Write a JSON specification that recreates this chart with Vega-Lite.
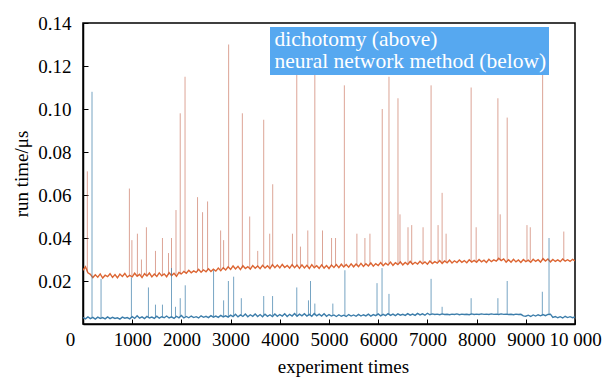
{
"$schema":"https://vega.github.io/schema/vega-lite/v6.json",
"width":492,"height":301,
"autosize":{"type":"none"},
"padding":{"left":83,"top":23,"right":31,"bottom":53},
"background":"white",
"config":{"font":"Liberation Serif","view":{"stroke":"black","strokeWidth":1.5},
"axis":{"domainColor":"black","domainWidth":1.5,"tickColor":"black","tickWidth":1,"labelColor":"black","labelFont":"Liberation Serif","labelFontSize":19,"titleFont":"Liberation Serif","titleFontSize":19,"titleFontWeight":"normal","titleColor":"black","grid":false},
"text":{"font":"Liberation Serif"}},
"datasets":{
"d":[
{"x":0,"y":0.0250},{"x":50,"y":0.0266},{"x":100,"y":0.0238},{"x":150,"y":0.0231},{"x":200,"y":0.0216},{"x":250,"y":0.0229},{"x":300,"y":0.0218},{"x":350,"y":0.0233},{"x":400,"y":0.0214},{"x":450,"y":0.0227},
{"x":500,"y":0.0220},{"x":550,"y":0.0234},{"x":600,"y":0.0217},{"x":650,"y":0.0230},{"x":700,"y":0.0215},{"x":750,"y":0.0232},{"x":800,"y":0.0221},{"x":850,"y":0.0235},{"x":900,"y":0.0218},{"x":950,"y":0.0226},
{"x":1000,"y":0.0219},{"x":1050,"y":0.0236},{"x":1100,"y":0.0222},{"x":1150,"y":0.0231},{"x":1200,"y":0.0216},{"x":1250,"y":0.0234},{"x":1300,"y":0.0223},{"x":1350,"y":0.0237},{"x":1400,"y":0.0219},{"x":1450,"y":0.0232},
{"x":1500,"y":0.0221},{"x":1550,"y":0.0238},{"x":1600,"y":0.0224},{"x":1650,"y":0.0233},{"x":1700,"y":0.0220},{"x":1750,"y":0.0239},{"x":1800,"y":0.0225},{"x":1850,"y":0.0236},{"x":1900,"y":0.0222},{"x":1950,"y":0.0240},
{"x":2000,"y":0.0233},{"x":2050,"y":0.0245},{"x":2100,"y":0.0236},{"x":2150,"y":0.0250},{"x":2200,"y":0.0238},{"x":2250,"y":0.0247},{"x":2300,"y":0.0240},{"x":2350,"y":0.0254},{"x":2400,"y":0.0241},{"x":2450,"y":0.0252},
{"x":2500,"y":0.0243},{"x":2550,"y":0.0257},{"x":2600,"y":0.0244},{"x":2650,"y":0.0255},{"x":2700,"y":0.0246},{"x":2750,"y":0.0260},{"x":2800,"y":0.0248},{"x":2850,"y":0.0262},{"x":2900,"y":0.0251},{"x":2950,"y":0.0266},
{"x":3000,"y":0.0254},{"x":3050,"y":0.0270},{"x":3100,"y":0.0256},{"x":3150,"y":0.0268},{"x":3200,"y":0.0253},{"x":3250,"y":0.0271},{"x":3300,"y":0.0258},{"x":3350,"y":0.0267},{"x":3400,"y":0.0255},{"x":3450,"y":0.0272},
{"x":3500,"y":0.0259},{"x":3550,"y":0.0270},{"x":3600,"y":0.0257},{"x":3650,"y":0.0273},{"x":3700,"y":0.0260},{"x":3750,"y":0.0271},{"x":3800,"y":0.0258},{"x":3850,"y":0.0276},{"x":3900,"y":0.0262},{"x":3950,"y":0.0274},
{"x":4000,"y":0.0261},{"x":4050,"y":0.0277},{"x":4100,"y":0.0263},{"x":4150,"y":0.0272},{"x":4200,"y":0.0260},{"x":4250,"y":0.0276},{"x":4300,"y":0.0262},{"x":4350,"y":0.0274},{"x":4400,"y":0.0259},{"x":4450,"y":0.0275},
{"x":4500,"y":0.0261},{"x":4550,"y":0.0273},{"x":4600,"y":0.0258},{"x":4650,"y":0.0276},{"x":4700,"y":0.0262},{"x":4750,"y":0.0271},{"x":4800,"y":0.0259},{"x":4850,"y":0.0275},{"x":4900,"y":0.0260},{"x":4950,"y":0.0272},
{"x":5000,"y":0.0258},{"x":5050,"y":0.0274},{"x":5100,"y":0.0263},{"x":5150,"y":0.0276},{"x":5200,"y":0.0262},{"x":5250,"y":0.0278},{"x":5300,"y":0.0265},{"x":5350,"y":0.0277},{"x":5400,"y":0.0264},{"x":5450,"y":0.0280},
{"x":5500,"y":0.0266},{"x":5550,"y":0.0279},{"x":5600,"y":0.0267},{"x":5650,"y":0.0282},{"x":5700,"y":0.0268},{"x":5750,"y":0.0280},{"x":5800,"y":0.0270},{"x":5850,"y":0.0284},{"x":5900,"y":0.0269},{"x":5950,"y":0.0281},
{"x":6000,"y":0.0272},{"x":6050,"y":0.0286},{"x":6100,"y":0.0271},{"x":6150,"y":0.0283},{"x":6200,"y":0.0274},{"x":6250,"y":0.0288},{"x":6300,"y":0.0273},{"x":6350,"y":0.0285},{"x":6400,"y":0.0276},{"x":6450,"y":0.0289},
{"x":6500,"y":0.0275},{"x":6550,"y":0.0286},{"x":6600,"y":0.0277},{"x":6650,"y":0.0291},{"x":6700,"y":0.0278},{"x":6750,"y":0.0287},{"x":6800,"y":0.0279},{"x":6850,"y":0.0292},{"x":6900,"y":0.0280},{"x":6950,"y":0.0289},
{"x":7000,"y":0.0278},{"x":7050,"y":0.0293},{"x":7100,"y":0.0281},{"x":7150,"y":0.0290},{"x":7200,"y":0.0283},{"x":7250,"y":0.0295},{"x":7300,"y":0.0282},{"x":7350,"y":0.0293},{"x":7400,"y":0.0285},{"x":7450,"y":0.0297},
{"x":7500,"y":0.0284},{"x":7550,"y":0.0294},{"x":7600,"y":0.0286},{"x":7650,"y":0.0298},{"x":7700,"y":0.0287},{"x":7750,"y":0.0295},{"x":7800,"y":0.0285},{"x":7850,"y":0.0299},{"x":7900,"y":0.0288},{"x":7950,"y":0.0296},
{"x":8000,"y":0.0287},{"x":8050,"y":0.0300},{"x":8100,"y":0.0289},{"x":8150,"y":0.0297},{"x":8200,"y":0.0286},{"x":8250,"y":0.0301},{"x":8300,"y":0.0290},{"x":8350,"y":0.0298},{"x":8400,"y":0.0292},{"x":8450,"y":0.0306},
{"x":8500,"y":0.0295},{"x":8550,"y":0.0303},{"x":8600,"y":0.0288},{"x":8650,"y":0.0299},{"x":8700,"y":0.0287},{"x":8750,"y":0.0301},{"x":8800,"y":0.0289},{"x":8850,"y":0.0298},{"x":8900,"y":0.0286},{"x":8950,"y":0.0300},
{"x":9000,"y":0.0290},{"x":9050,"y":0.0297},{"x":9100,"y":0.0287},{"x":9150,"y":0.0301},{"x":9200,"y":0.0291},{"x":9250,"y":0.0299},{"x":9300,"y":0.0288},{"x":9350,"y":0.0304},{"x":9400,"y":0.0293},{"x":9450,"y":0.0302},
{"x":9500,"y":0.0289},{"x":9550,"y":0.0300},{"x":9600,"y":0.0291},{"x":9650,"y":0.0298},{"x":9700,"y":0.0290},{"x":9750,"y":0.0302},{"x":9800,"y":0.0292},{"x":9850,"y":0.0299},{"x":9900,"y":0.0291},{"x":9950,"y":0.0301},
{"x":10000,"y":0.0294}
],
"ds":[
{"x":88,"y":0.071,"b":0.024},{"x":943,"y":0.063,"b":0.0225},{"x":994,"y":0.039,"b":0.0225},{"x":1106,"y":0.042,"b":0.0225},{"x":1188,"y":0.030,"b":0.0225},{"x":1289,"y":0.045,"b":0.0225},{"x":1473,"y":0.034,"b":0.0225},{"x":1615,"y":0.040,"b":0.0228},{"x":1738,"y":0.033,"b":0.0228},{"x":1799,"y":0.040,"b":0.0228},
{"x":1890,"y":0.053,"b":0.023},{"x":1976,"y":0.098,"b":0.023},{"x":2074,"y":0.115,"b":0.024},{"x":2328,"y":0.059,"b":0.0245},{"x":2430,"y":0.052,"b":0.0245},{"x":2532,"y":0.057,"b":0.025},{"x":2797,"y":0.0435,"b":0.0255},{"x":2858,"y":0.039,"b":0.0255},{"x":2960,"y":0.130,"b":0.026},{"x":3239,"y":0.098,"b":0.026},
{"x":3388,"y":0.050,"b":0.026},{"x":3551,"y":0.034,"b":0.0265},{"x":3673,"y":0.095,"b":0.0265},{"x":3795,"y":0.042,"b":0.0265},{"x":3856,"y":0.065,"b":0.0268},{"x":4257,"y":0.042,"b":0.0268},{"x":4345,"y":0.116,"b":0.0268},{"x":4420,"y":0.036,"b":0.0268},{"x":4569,"y":0.0435,"b":0.0268},{"x":4712,"y":0.116,"b":0.0268},
{"x":4868,"y":0.0435,"b":0.0268},{"x":5052,"y":0.040,"b":0.027},{"x":5133,"y":0.040,"b":0.027},{"x":5312,"y":0.111,"b":0.027},{"x":5567,"y":0.042,"b":0.0273},{"x":5730,"y":0.040,"b":0.0275},{"x":5832,"y":0.042,"b":0.0275},{"x":6082,"y":0.100,"b":0.0278},{"x":6219,"y":0.115,"b":0.028},{"x":6402,"y":0.105,"b":0.028},
{"x":6443,"y":0.051,"b":0.028},{"x":6606,"y":0.045,"b":0.0283},{"x":6681,"y":0.046,"b":0.0283},{"x":6912,"y":0.045,"b":0.0285},{"x":7075,"y":0.111,"b":0.0287},{"x":7217,"y":0.046,"b":0.0288},{"x":7299,"y":0.061,"b":0.0288},{"x":7380,"y":0.042,"b":0.029},{"x":7889,"y":0.110,"b":0.0292},{"x":7991,"y":0.045,"b":0.0292},
{"x":8433,"y":0.105,"b":0.0295},{"x":8480,"y":0.051,"b":0.0295},{"x":8622,"y":0.096,"b":0.0295},{"x":9024,"y":0.046,"b":0.0295},{"x":9091,"y":0.045,"b":0.0295},{"x":9342,"y":0.138,"b":0.0296},{"x":9772,"y":0.043,"b":0.0296}
],
"n":[
{"x":0,"y":0.0030},{"x":50,"y":0.0024},{"x":100,"y":0.0033},{"x":150,"y":0.0025},{"x":200,"y":0.0031},{"x":250,"y":0.0023},{"x":300,"y":0.0032},{"x":350,"y":0.0026},{"x":400,"y":0.0030},{"x":450,"y":0.0024},
{"x":500,"y":0.0033},{"x":550,"y":0.0025},{"x":600,"y":0.0031},{"x":650,"y":0.0026},{"x":700,"y":0.0029},{"x":750,"y":0.0023},{"x":800,"y":0.0032},{"x":850,"y":0.0027},{"x":900,"y":0.0030},{"x":950,"y":0.0024},
{"x":1000,"y":0.0034},{"x":1050,"y":0.0026},{"x":1100,"y":0.0038},{"x":1150,"y":0.0027},{"x":1200,"y":0.0033},{"x":1250,"y":0.0025},{"x":1300,"y":0.0035},{"x":1350,"y":0.0028},{"x":1400,"y":0.0032},{"x":1450,"y":0.0026},
{"x":1500,"y":0.0036},{"x":1550,"y":0.0027},{"x":1600,"y":0.0034},{"x":1650,"y":0.0029},{"x":1700,"y":0.0037},{"x":1750,"y":0.0028},{"x":1800,"y":0.0033},{"x":1850,"y":0.0026},{"x":1900,"y":0.0036},{"x":1950,"y":0.0029},
{"x":2000,"y":0.0040},{"x":2050,"y":0.0028},{"x":2100,"y":0.0035},{"x":2150,"y":0.0029},{"x":2200,"y":0.0037},{"x":2250,"y":0.0030},{"x":2300,"y":0.0034},{"x":2350,"y":0.0028},{"x":2400,"y":0.0038},{"x":2450,"y":0.0031},
{"x":2500,"y":0.0036},{"x":2550,"y":0.0030},{"x":2600,"y":0.0039},{"x":2650,"y":0.0032},{"x":2700,"y":0.0037},{"x":2750,"y":0.0031},{"x":2800,"y":0.0040},{"x":2850,"y":0.0033},{"x":2900,"y":0.0038},{"x":2950,"y":0.0032},
{"x":3000,"y":0.0041},{"x":3050,"y":0.0034},{"x":3100,"y":0.0045},{"x":3150,"y":0.0033},{"x":3200,"y":0.0042},{"x":3250,"y":0.0035},{"x":3300,"y":0.0046},{"x":3350,"y":0.0034},{"x":3400,"y":0.0043},{"x":3450,"y":0.0036},
{"x":3500,"y":0.0047},{"x":3550,"y":0.0035},{"x":3600,"y":0.0044},{"x":3650,"y":0.0034},{"x":3700,"y":0.0046},{"x":3750,"y":0.0036},{"x":3800,"y":0.0043},{"x":3850,"y":0.0035},{"x":3900,"y":0.0047},{"x":3950,"y":0.0036},
{"x":4000,"y":0.0044},{"x":4050,"y":0.0037},{"x":4100,"y":0.0048},{"x":4150,"y":0.0035},{"x":4200,"y":0.0045},{"x":4250,"y":0.0037},{"x":4300,"y":0.0049},{"x":4350,"y":0.0036},{"x":4400,"y":0.0046},{"x":4450,"y":0.0038},
{"x":4500,"y":0.0048},{"x":4550,"y":0.0037},{"x":4600,"y":0.0045},{"x":4650,"y":0.0036},{"x":4700,"y":0.0049},{"x":4750,"y":0.0038},{"x":4800,"y":0.0046},{"x":4850,"y":0.0037},{"x":4900,"y":0.0048},{"x":4950,"y":0.0036},
{"x":5000,"y":0.0044},{"x":5050,"y":0.0037},{"x":5100,"y":0.0042},{"x":5150,"y":0.0035},{"x":5200,"y":0.0043},{"x":5250,"y":0.0036},{"x":5300,"y":0.0041},{"x":5350,"y":0.0035},{"x":5400,"y":0.0044},{"x":5450,"y":0.0037},
{"x":5500,"y":0.0042},{"x":5550,"y":0.0036},{"x":5600,"y":0.0045},{"x":5650,"y":0.0037},{"x":5700,"y":0.0043},{"x":5750,"y":0.0038},{"x":5800,"y":0.0046},{"x":5850,"y":0.0037},{"x":5900,"y":0.0044},{"x":5950,"y":0.0039},
{"x":6000,"y":0.0047},{"x":6050,"y":0.0038},{"x":6100,"y":0.0045},{"x":6150,"y":0.0039},{"x":6200,"y":0.0048},{"x":6250,"y":0.0040},{"x":6300,"y":0.0046},{"x":6350,"y":0.0039},{"x":6400,"y":0.0047},{"x":6450,"y":0.0041},
{"x":6500,"y":0.0045},{"x":6550,"y":0.0040},{"x":6600,"y":0.0048},{"x":6650,"y":0.0041},{"x":6700,"y":0.0046},{"x":6750,"y":0.0040},{"x":6800,"y":0.0049},{"x":6850,"y":0.0042},{"x":6900,"y":0.0047},{"x":6950,"y":0.0041},
{"x":7000,"y":0.0050},{"x":7050,"y":0.0043},{"x":7100,"y":0.0047},{"x":7150,"y":0.0044},{"x":7200,"y":0.0046},{"x":7250,"y":0.0043},{"x":7300,"y":0.0047},{"x":7350,"y":0.0044},{"x":7400,"y":0.0045},{"x":7450,"y":0.0043},
{"x":7500,"y":0.0046},{"x":7550,"y":0.0044},{"x":7600,"y":0.0047},{"x":7650,"y":0.0043},{"x":7700,"y":0.0046},{"x":7750,"y":0.0044},{"x":7800,"y":0.0045},{"x":7850,"y":0.0043},{"x":7900,"y":0.0047},{"x":7950,"y":0.0044},
{"x":8000,"y":0.0046},{"x":8050,"y":0.0044},{"x":8100,"y":0.0047},{"x":8150,"y":0.0045},{"x":8200,"y":0.0046},{"x":8250,"y":0.0044},{"x":8300,"y":0.0047},{"x":8350,"y":0.0045},{"x":8400,"y":0.0046},{"x":8450,"y":0.0044},
{"x":8500,"y":0.0047},{"x":8550,"y":0.0045},{"x":8600,"y":0.0046},{"x":8650,"y":0.0044},{"x":8700,"y":0.0045},{"x":8750,"y":0.0043},{"x":8800,"y":0.0046},{"x":8850,"y":0.0044},{"x":8900,"y":0.0045},{"x":8950,"y":0.0038},
{"x":9000,"y":0.0036},{"x":9050,"y":0.0041},{"x":9100,"y":0.0035},{"x":9150,"y":0.0042},{"x":9200,"y":0.0037},{"x":9250,"y":0.0043},{"x":9300,"y":0.0038},{"x":9350,"y":0.0044},{"x":9400,"y":0.0039},{"x":9450,"y":0.0045},
{"x":9500,"y":0.0046},{"x":9550,"y":0.0031},{"x":9600,"y":0.0035},{"x":9650,"y":0.0029},{"x":9700,"y":0.0034},{"x":9750,"y":0.0028},{"x":9800,"y":0.0036},{"x":9850,"y":0.0030},{"x":9900,"y":0.0034},{"x":9950,"y":0.0029},
{"x":10000,"y":0.0033}
],
"ns":[
{"x":183,"y":0.108,"b":0.003},{"x":367,"y":0.021,"b":0.003},{"x":984,"y":0.0217,"b":0.003},{"x":1330,"y":0.017,"b":0.003},{"x":1473,"y":0.009,"b":0.003},{"x":1615,"y":0.009,"b":0.003},{"x":1799,"y":0.026,"b":0.003},{"x":1880,"y":0.008,"b":0.003},{"x":1976,"y":0.012,"b":0.0033},{"x":2078,"y":0.018,"b":0.0033},
{"x":2654,"y":0.025,"b":0.0035},{"x":2858,"y":0.011,"b":0.0035},{"x":2955,"y":0.020,"b":0.0035},{"x":3062,"y":0.022,"b":0.0038},{"x":3218,"y":0.012,"b":0.0038},{"x":3673,"y":0.013,"b":0.004},{"x":3853,"y":0.013,"b":0.004},{"x":4345,"y":0.017,"b":0.004},{"x":4583,"y":0.011,"b":0.004},{"x":4624,"y":0.020,"b":0.004},
{"x":4712,"y":0.0095,"b":0.004},{"x":5078,"y":0.0095,"b":0.004},{"x":5323,"y":0.025,"b":0.004},{"x":5976,"y":0.019,"b":0.004},{"x":6078,"y":0.026,"b":0.0042},{"x":6219,"y":0.014,"b":0.0042},{"x":7075,"y":0.021,"b":0.0045},{"x":7299,"y":0.008,"b":0.0045},{"x":7889,"y":0.012,"b":0.0045},{"x":8433,"y":0.012,"b":0.0045},
{"x":8622,"y":0.020,"b":0.0045},{"x":9336,"y":0.015,"b":0.004},{"x":9472,"y":0.040,"b":0.004}
]},
"encoding":{
"x":{"field":"x","type":"quantitative","scale":{"domain":[0,10000],"nice":false},
"axis":{"title":"experiment times","values":[0,1000,2000,3000,4000,5000,6000,7000,8000,9000,10000],"format":"d","labelExpr":"datum.value == 10000 ? '10 000' : datum.label","labelFont":"Liberation Serif","labelFontSize":19,"tickSize":-5,"labelPadding":11,"labelFlush":false,"labelOverlap":false,"labelBound":false,"labelOffset":{"condition":{"test":"datum.value == 0","value":-13},"value":0},"titleX":260,"titlePadding":8}},
"y":{"field":"y","type":"quantitative","scale":{"domain":[0,0.14],"nice":false},
"axis":{"title":"run time/μs","values":[0.02,0.04,0.06,0.08,0.1,0.12,0.14],"format":".2f","labelFont":"Liberation Serif","labelFontSize":19,"tickSize":-5,"labelPadding":17,"labelFlush":false,"labelOverlap":false,"titlePadding":6}}
},
"layer":[
{"data":{"name":"d"},"mark":{"type":"line","strokeWidth":1.4,"clip":true},
"encoding":{"color":{"datum":"dichotomy (above)","type":"nominal","scale":{"domain":["dichotomy (above)","neural network method (below)"],"range":["#DD6633","#3C7DAA"]},
"legend":{"orient":"none","legendX":187,"legendY":4,"title":null,"fillColor":"#56A8F0","padding":2,"labelFont":"Liberation Serif","labelFontSize":21.5,"labelColor":"white","labelLimit":400,"symbolOpacity":0,"symbolSize":0,"symbolStrokeWidth":0,"symbolType":"circle","labelOffset":-19,"rowPadding":-3}}}},
{"data":{"name":"ds"},"mark":{"type":"rule","strokeWidth":1,"opacity":0.55,"color":"#C05A40","clip":true},
"encoding":{"y2":{"field":"b"}}},
{"data":{"name":"n"},"mark":{"type":"line","strokeWidth":1.4,"clip":true},
"encoding":{"color":{"datum":"neural network method (below)","type":"nominal"}}},
{"data":{"name":"ns"},"mark":{"type":"rule","strokeWidth":1,"opacity":0.7,"color":"#3C7DAA","clip":true},
"encoding":{"y2":{"field":"b"}}}
]
}
